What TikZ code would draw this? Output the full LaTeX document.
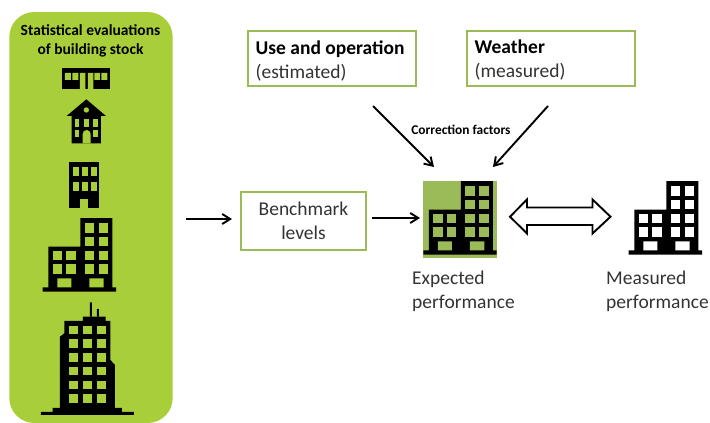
\documentclass[tikz,border=0pt]{standalone}
\usepackage{fontspec}
\setmainfont{Carlito}
\definecolor{stockgreen}{HTML}{A8CF3A}
\definecolor{olive}{HTML}{9BBB59}
\definecolor{txt}{HTML}{333333}
\tikzset{
  infobox/.style={draw=olive,line width=2.4pt,fill=white,inner sep=0pt,minimum width=168pt,minimum height=55pt},
  arr/.style={-{Straight Barb[length=8pt,width=10pt,line width=1.9pt]},line width=1.9pt,black},
  lab/.style={text=txt,font=\fontsize{19.5}{24}\selectfont,align=left,inner sep=0pt,anchor=north west},
  headtxt/.style={font=\bfseries\fontsize{15.5}{19}\selectfont,align=center,inner sep=0pt,text=black}
}
\usetikzlibrary{arrows.meta}
% big building icon, drawn in a 220 x 221 local grid
\newcommand{\bigbldg}[3]{%
\begin{scope}[shift={(#1,#2)},x=0.3333pt,y=-0.3333pt]
  \fill[black] (113,0) rectangle (209,208) (17,86) rectangle (113,208) (0,208) rectangle (220,221);
  \foreach \cx in {126,168} \foreach \cy in {16,57,98,139}
    \fill[#3] (\cx,\cy) rectangle ++(28,28);
  \foreach \cx in {30,71} \foreach \cy in {98,139}
    \fill[#3] (\cx,\cy) rectangle ++(28,28);
  \fill[#3] (44,181) rectangle (86,208) (140,181) rectangle (183,208);
\end{scope}}
\begin{document}
\begin{tikzpicture}[x=1pt,y=-1pt]
\useasboundingbox (0,0) rectangle (710,423);
% stock panel
\node[fill=stockgreen,rounded corners=25pt,minimum width=163.4pt,minimum height=411pt,inner sep=0pt] (stock) at (91,217.5) {};
\node[headtxt] (stocktitle) at (90.5,40.5) {Statistical evaluations\\of building stock};
% terraced block
\begin{scope}[x=0.3333pt,y=-0.3333pt]
  \fill[black] (185,205) rectangle (330,268);
  \fill[stockgreen] (195,219) rectangle (213,240) (217,219) rectangle (235,240)
     (283,219) rectangle (300,240) (304,219) rectangle (322,240);
  \fill[stockgreen] (240,219) rectangle (256,268) (264,219) rectangle (280,268);
  % house
  \fill[black] (259,298) -- (318,348) -- (303,348) -- (303,430) -- (215,430) -- (215,348) -- (200,348) -- cycle;
  \fill[stockgreen] (259,330) circle (8);
  \foreach \cx in {224,252,280} \fill[stockgreen] (\cx,358) rectangle ++(14,22);
  \foreach \cx in {224,280} \fill[stockgreen] (\cx,390) rectangle ++(14,22);
  \fill[stockgreen] (248,430) -- (248,402) arc[start angle=180,end angle=360,radius=12] -- (272,430) -- cycle;
  % office block
  \fill[black] (207,487) rectangle (298,623);
  \foreach \cx in {218,245,272} \foreach \cy in {500,545} \fill[stockgreen] (\cx,\cy) rectangle ++(18,28);
  \fill[stockgreen] (240,597) rectangle (265,623);
  % tower (zoom coordinates with y offset 630)
  \fill[black] (270,907) rectangle (276,950) (291,927) rectangle (297,950);
  \fill[black] (123,1236) -- (158,1236) -- (158,1224) -- (180,1224) -- (180,1010) -- (193,1000) -- (193,963)
     -- (249,963) -- (249,950) -- (317,950) -- (317,963) -- (331,963) -- (331,1080) -- (345,1095) -- (345,1224)
     -- (366,1224) -- (366,1236) -- (402,1236) -- (402,1245) -- (123,1245) -- cycle;
  \foreach \cx in {207,248,290} \foreach \cy in {977,1018,1059,1100,1142,1183}
    \fill[stockgreen] (\cx,\cy) rectangle ++(28,26);
\end{scope}
\bigbldg{42.7}{218}{stockgreen}
% boxes
\node[infobox] (use) at (332.2,58.7) {};
\node[lab,anchor=west] (usetxt) at (255.5,60.5) {\textbf{\textcolor{black}{Use and operation}}\\(estimated)};
\node[infobox] (weather) at (550.7,58.7) {};
\node[lab,anchor=west] (weathertxt) at (474.5,60.5) {\textbf{\textcolor{black}{Weather}}\\(measured)};
\node[infobox,minimum width=125pt,minimum height=58pt,align=center,text=txt,font=\fontsize{19.5}{24}\selectfont] (bench) at (303.5,221) {Benchmark\\levels};
% buildings
\fill[olive] (423.3,181) rectangle (497,258);
\bigbldg{423.3}{181}{olive}
\bigbldg{628.7}{181}{white}
\node[inner sep=0pt,minimum width=74pt,minimum height=74pt] (expected) at (460,218) {};
\node[inner sep=0pt,minimum width=74pt,minimum height=74pt] (measured) at (665.7,218) {};
\node[lab] (explab) at (412,271) {Expected\\performance};
\node[lab] (meslab) at (606,271) {Measured\\performance};
\node[font=\bfseries\fontsize{13.4}{14}\selectfont,inner sep=0pt] (corr) at (461,130) {Correction factors};
% connectors
\coordinate (usefoot) at (373,106);
\coordinate (weatherfoot) at (548,106);
\coordinate (usetip) at (434,167);
\coordinate (weathertip) at (493,167);
\draw[arr] (usefoot) -- (usetip);
\draw[arr] (weatherfoot) -- (weathertip);
\coordinate (stockout) at (186,219);
\coordinate (benchin) at (232,219);
\coordinate (benchout) at (372,218);
\coordinate (expin) at (420,218);
\draw[arr] (stockout) -- (benchin);
\draw[arr] (benchout) -- (expin);
% hollow double arrow
\draw[black,fill=white,line width=1.9pt,miter limit=6] (510,216.7) -- (527,199.5) -- (527,207.5) -- (592.5,207.5) -- (592.5,199.5) -- (610.5,216.7)
  -- (592.5,233.5) -- (592.5,225) -- (527,225) -- (527,233.5) -- cycle;
\end{tikzpicture}
\end{document}
